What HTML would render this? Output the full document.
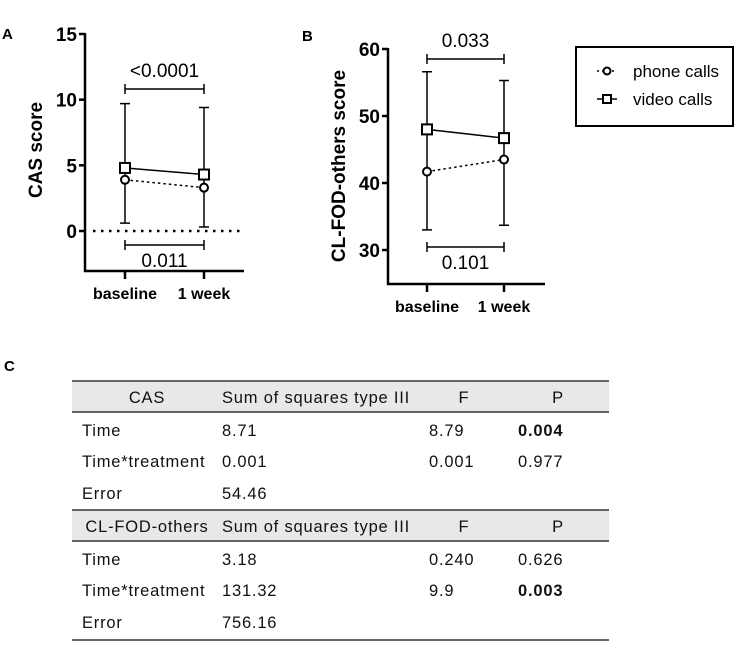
<!DOCTYPE html>
<html><head><meta charset="utf-8"><style>
body{margin:0;background:#fff;width:738px;height:645px;overflow:hidden;font-family:"Liberation Sans",sans-serif}
svg text{font-family:"Liberation Sans",sans-serif}
</style></head><body>
<svg id="fig" width="738" height="645" viewBox="0 0 738 645">
<text x="2" y="39" font-size="15" font-weight="bold">A</text>
<text x="302" y="41" font-size="15" font-weight="bold">B</text>
<text x="4" y="371" font-size="15" font-weight="bold">C</text>
<g id="pa"></g>
<g id="pb"></g>
<g>
<rect x="576" y="47" width="157" height="79" fill="#fff" stroke="#000" stroke-width="2"/>
<g>
<line x1="597" y1="71" x2="617" y2="71" stroke="#000" stroke-width="1.5" stroke-dasharray="2,3"/>
<circle cx="607" cy="71" r="3.5" fill="#fff" stroke="#000" stroke-width="2"/>
<text x="633" y="77" font-size="17">phone calls</text></g>
<g>
<line x1="597" y1="99" x2="617" y2="99" stroke="#000" stroke-width="1.5"/>
<rect x="603" y="95" width="8" height="8" fill="#fff" stroke="#000" stroke-width="2"/>
<text x="633" y="105" font-size="17">video calls</text></g>
</g>
<g id="tbl"></g>
</svg>
<script>
const categories=["baseline","1 week"];
const casPhone=[3.9,3.3];
const casVideo=[4.8,4.3];
const casErrTop=[9.7,9.4];
const casErrBottom=[0.6,0.3];
const casTicks=[0,5,10,15];
const fodPhone=[41.7,43.5];
const fodVideo=[48,46.7];
const fodErrTop=[56.6,55.3];
const fodErrBottom=[33,33.7];
const fodTicks=[30,40,50,60];
const NS="http://www.w3.org/2000/svg";
function mk(parent,tag,attrs,txt){const e=document.createElementNS(NS,tag);for(const k in attrs)e.setAttribute(k,attrs[k]);if(txt!==undefined)e.textContent=txt;parent.appendChild(e);return e;}
function panel(g,cfg){
  const y=v=>cfg.y0+(v-cfg.v0)*(cfg.y1-cfg.y0)/(cfg.v1-cfg.v0);
  const x=i=>cfg.xs[0]+i*(cfg.xs[1]-cfg.xs[0]);
  const ax=mk(g,'path',{d:`M${cfg.ax} ${cfg.top}V${cfg.bottom}H${cfg.right}`,fill:'none',stroke:'#000','stroke-width':2.5});
  
  cfg.ticks.forEach(t=>{
    const tk=mk(g,'line',{x1:cfg.ax-6,x2:cfg.ax,y1:y(t),y2:y(t),stroke:'#000','stroke-width':2.5});
    
    const lb=mk(g,'text',{x:cfg.ax-8,y:y(t)+7,'font-size':19,'font-weight':'bold','text-anchor':'end'},t);
    
  });
  categories.forEach((c,i)=>{
    const tk=mk(g,'line',{x1:x(i),x2:x(i),y1:cfg.bottom,y2:cfg.bottom+8,stroke:'#000','stroke-width':2.5});
    
    const lb=mk(g,'text',{x:x(i),y:cfg.bottom+28,'font-size':16,'font-weight':'bold','text-anchor':'middle'},c);
    
  });
  const yt=mk(g,'text',{x:0,y:0,'font-size':19,'font-weight':'bold','text-anchor':'middle',transform:`translate(${cfg.titleX},${cfg.titleY}) rotate(-90)`},cfg.title);
  
  if(cfg.zero!==undefined){const z=mk(g,'line',{x1:cfg.ax+8,x2:cfg.right,y1:y(cfg.zero),y2:y(cfg.zero),stroke:'#000','stroke-width':2.5,'stroke-dasharray':'2.5,5.5'});
    }
  categories.forEach((c,i)=>{
    const e=mk(g,'path',{d:`M${x(i)} ${y(cfg.errTop[i])}V${y(cfg.errBottom[i])}M${x(i)-5} ${y(cfg.errTop[i])}H${x(i)+5}M${x(i)-5} ${y(cfg.errBottom[i])}H${x(i)+5}`,stroke:'#000','stroke-width':1.5,fill:'none'});
    
  });
  const lp=mk(g,'line',{x1:x(0),y1:y(cfg.phone[0]),x2:x(1),y2:y(cfg.phone[1]),stroke:'#000','stroke-width':1.5,'stroke-dasharray':'2.5,3'});
  
  const lv=mk(g,'line',{x1:x(0),y1:y(cfg.video[0]),x2:x(1),y2:y(cfg.video[1]),stroke:'#000','stroke-width':1.5});
  
  categories.forEach((c,i)=>{
    const p=mk(g,'circle',{cx:x(i),cy:y(cfg.phone[i]),r:4,fill:'#fff',stroke:'#000','stroke-width':2});
    
    const v=mk(g,'rect',{x:x(i)-5,y:y(cfg.video[i])-5,width:10,height:10,fill:'#fff',stroke:'#000','stroke-width':2});
    
  });
  cfg.brackets.forEach(b=>{
    const br=mk(g,'path',{d:`M${x(0)} ${b.y-5}V${b.y+5}M${x(0)} ${b.y}H${x(1)}M${x(1)} ${b.y-5}V${b.y+5}`,stroke:'#000','stroke-width':1.5,fill:'none'});
    
    const t=mk(g,'text',{x:(x(0)+x(1))/2,y:b.ty,'font-size':19,'text-anchor':'middle'},b.label);
    
  });
}
panel(document.getElementById('pa'),{v0:0,v1:15,y0:231,y1:34,ax:85,top:33,bottom:271,right:244,xs:[125,204],ticks:casTicks,
  title:'CAS score',titleX:42,titleY:150,zero:0,phone:casPhone,video:casVideo,errTop:casErrTop,errBottom:casErrBottom,
  brackets:[{y:89,ty:77,label:'<0.0001'},{y:245,ty:267,label:'0.011'}]});
panel(document.getElementById('pb'),{v0:30,v1:60,y0:250,y1:49,ax:388,top:48,bottom:284,right:545,xs:[427,504],ticks:fodTicks,
  title:'CL-FOD-others score',titleX:345,titleY:166,phone:fodPhone,video:fodVideo,errTop:fodErrTop,errBottom:fodErrBottom,
  brackets:[{y:59,ty:47,label:'0.033'},{y:247,ty:269,label:'0.101'}]});
// table
const tbl=document.getElementById('tbl');
const rows=[
 {h:true,y:381,c:['CAS','Sum of squares type III','F','P']},
 {cy:436,c:['Time','8.71','8.79','0.004'],b:true},
 {cy:467,c:['Time*treatment','0.001','0.001','0.977']},
 {cy:499,c:['Error','54.46','','']},
 {h:true,y:510,c:['CL-FOD-others','Sum of squares type III','F','P']},
 {cy:565,c:['Time','3.18','0.240','0.626']},
 {cy:596,c:['Time*treatment','131.32','9.9','0.003'],b:true},
 {cy:628,c:['Error','756.16','','']}
];
const FS=16.5, LS=0.8;
rows.forEach(r=>{
  if(r.h){
    const bg=mk(tbl,'rect',{x:72,y:r.y,width:537,height:31,fill:'#e8e8e8'});
    
    mk(tbl,'line',{x1:72,x2:609,y1:r.y,y2:r.y,stroke:'#333','stroke-width':1.5});
    mk(tbl,'line',{x1:72,x2:609,y1:r.y+31,y2:r.y+31,stroke:'#333','stroke-width':1.5});
    const cy=r.y+22;
    [[147,'middle'],[222,'start'],[464,'middle'],[558,'middle']].forEach((p,i)=>{
      const t=mk(tbl,'text',{x:p[0],y:cy,'font-size':FS,'letter-spacing':LS,'text-anchor':p[1],fill:'#111'},r.c[i]);
      
    });
  } else {
    [82,222,429,518].forEach((px,i)=>{
      if(!r.c[i])return;
      const t=mk(tbl,'text',{x:px,y:r.cy,'font-size':FS,'letter-spacing':LS,fill:'#111','font-weight':(i==3&&r.b)?'bold':'normal'},r.c[i]);
      
    });
  }
});
mk(tbl,'line',{x1:72,x2:609,y1:640,y2:640,stroke:'#333','stroke-width':1.5});
</script>
</body></html>
